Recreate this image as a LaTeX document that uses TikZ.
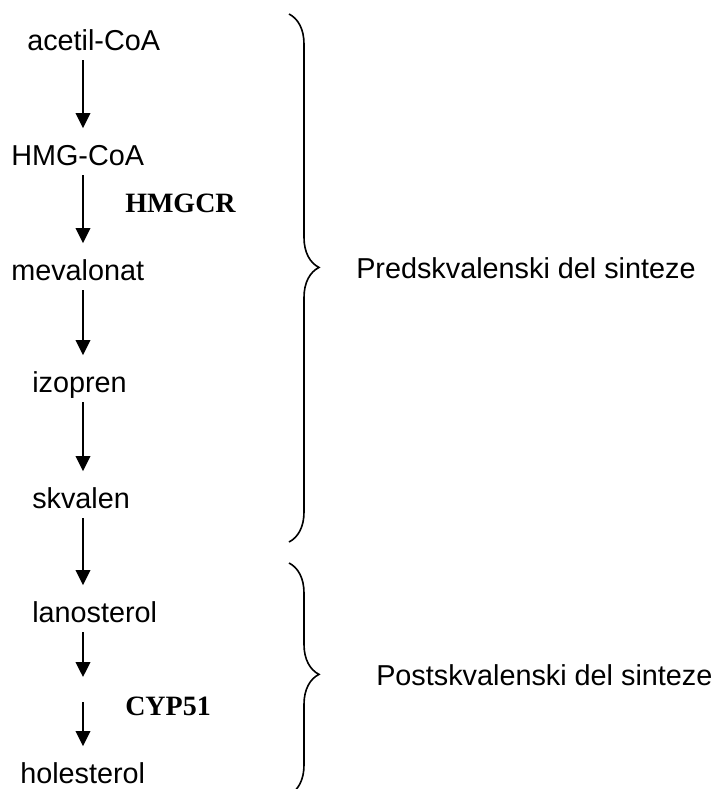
\documentclass[tikz,border=0pt]{standalone}
\usepackage{fontspec}
\setmainfont{Liberation Sans}
\newfontfamily\enzymefont{Liberation Serif}
\usetikzlibrary{arrows.meta, decorations.pathreplacing}

\begin{document}
\begin{tikzpicture}[
    x=0.75pt, y=-0.75pt,
    metabolite/.style={anchor=base west, inner sep=0pt, text height=27.5pt, text depth=7.5pt, font=\fontsize{21.6}{26}\selectfont},
    enzyme/.style={anchor=base west, inner sep=0pt, font=\enzymefont\bfseries\fontsize{21}{25}\selectfont},
    phasetext/.style={anchor=base west, inner sep=0pt, font=\fontsize{21.6}{26}\selectfont},
    reaction/.style={line width=1.2pt, -{Triangle[length=11.25pt, width=11pt]}},
    phase/.style={decorate, line width=1.2pt, decoration={brace, amplitude=22.5pt, aspect=#1}}
]
\useasboundingbox (0,0) rectangle (722,789);
\coordinate (spine) at (83,0);

% Metabolites
\node[metabolite] (acetil) at (27,50) {acetil-CoA};
\node[metabolite] (hmg) at (11,165) {HMG-CoA};
\node[metabolite] (meva) at (11,280) {mevalonat};
\node[metabolite] (izo) at (32,392) {izopren};
\node[metabolite] (skv) at (32,508) {skvalen};
\node[metabolite] (lano) at (32,622) {lanosterol};
\node[metabolite] (hol) at (20,783) {holesterol};

% Enzymes
\node[enzyme] (hmgcr) at (125,212) {HMGCR};
\node[enzyme] (cyp) at (125,715) {CYP51};

% Reactions
\draw[reaction] (acetil.south -| spine) -- (hmg.north -| spine);
\draw[reaction] (hmg.south -| spine) -- (meva.north -| spine);
\draw[reaction] (meva.south -| spine) -- (izo.north -| spine);
\draw[reaction] (izo.south -| spine) -- (skv.north -| spine);
\draw[reaction] (skv.south -| spine) -- (lano.north -| spine);
\coordinate (cypgap) at (83,677);
\coordinate (cypresume) at (83,702);
\draw[reaction] (lano.south -| spine) -- (cypgap);
\draw[reaction] (cypresume) -- (hol.north -| spine);

% Phases of the synthesis
\draw[phase=0.48] (289,14) -- (289,542);
\draw[phase=0.48] (289,563) -- (289,795);
\node[phasetext] (pre) at (356,278) {Predskvalenski del sinteze};
\node[phasetext] (post) at (376,685) {Postskvalenski del sinteze};
\end{tikzpicture}
\end{document}
